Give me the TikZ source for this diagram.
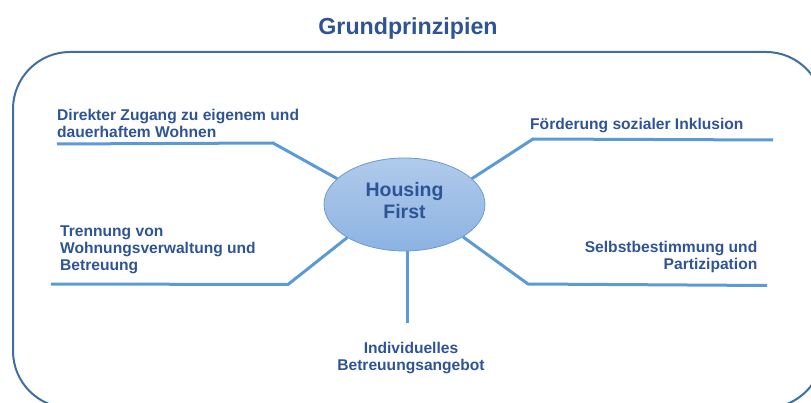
\documentclass[tikz,border=0pt]{standalone}
\usepackage{fontspec}
\setmainfont{Liberation Sans}
\usetikzlibrary{shapes.geometric}
\definecolor{textblue}{RGB}{47,84,150}
\definecolor{spokeblue}{RGB}{91,155,213}
\definecolor{frameblue}{RGB}{65,110,160}
\definecolor{ovaltop}{RGB}{176,202,235}
\definecolor{ovalbottom}{RGB}{141,179,226}
\definecolor{ovalline}{RGB}{105,155,215}
\begin{document}
\begin{tikzpicture}[x=1pt,y=-1pt,
  lbl/.style={inner sep=0pt, text=textblue, font=\fontsize{15.6}{17}\selectfont\bfseries},
  titlefont/.style={inner sep=0pt, text=textblue, font=\fontsize{23.2}{27}\selectfont\bfseries},
  hubtext/.style={inner sep=0pt, text=textblue, align=center, font=\fontsize{19.5}{22.3}\selectfont\bfseries},
  spoke/.style={draw=spokeblue, line width=3pt},
  frame/.style={draw=frameblue, line width=2pt, rounded corners=57pt},
  oval/.style={ellipse, minimum width=161pt, minimum height=93pt, inner sep=0pt,
    draw=ovalline, line width=0.8pt, top color=ovaltop, bottom color=ovalbottom}]
\useasboundingbox (0,0) rectangle (811,403);

% outer frame, running past the page edges on the right and bottom
\begin{scope}
  \clip (0,0) rectangle (811,403);
  \draw[frame] (13,52) rectangle (823,408);
\end{scope}

\node[titlefont, anchor=base] (title) at (408,35) {Grundprinzipien};

% central hub
\node[oval] (hf) at (404.5,204.5) {};
\node[hubtext] (hftxt) at ([yshift=4.3pt]hf.center) {Housing\\First};

% principles
\node[lbl, anchor=north west, align=left] (p1) at (57,109.2)
  {Direkter Zugang zu eigenem und\\dauerhaftem Wohnen};
\node[lbl, anchor=base west] (p2) at (530,130) {Förderung sozialer Inklusion};
\node[lbl, anchor=north west, align=left] (p3) at (60,225.9)
  {Trennung von\\Wohnungsverwaltung und\\Betreuung};
\node[lbl, anchor=north east, align=right] (p4) at (757.5,241.4)
  {Selbstbestimmung und\\Partizipation};
\node[lbl, anchor=north, align=center] (p5) at (411,342.2)
  {Individuelles\\Betreuungsangebot};

% bends and underline ends of the spokes
\coordinate (k1) at (273,143);  \coordinate (e1) at (57,144);
\coordinate (k2) at (533,139);  \coordinate (e2) at (773,140);
\coordinate (k3) at (288,284.5);\coordinate (e3) at (51,284);
\coordinate (k4) at (528,284);  \coordinate (e4) at (767,285.5);
\coordinate (e5) at (407,323);

\draw[spoke] (hf.159) -- (k1) -- (e1);
\draw[spoke] (hf.21) -- (k2) -- (e2);
\draw[spoke] (hf.210.5) -- (k3) -- (e3);
\draw[spoke] (hf.331) -- (k4) -- (e4);
\draw[spoke] (hf.south -| e5) -- (e5);
\end{tikzpicture}
\end{document}
